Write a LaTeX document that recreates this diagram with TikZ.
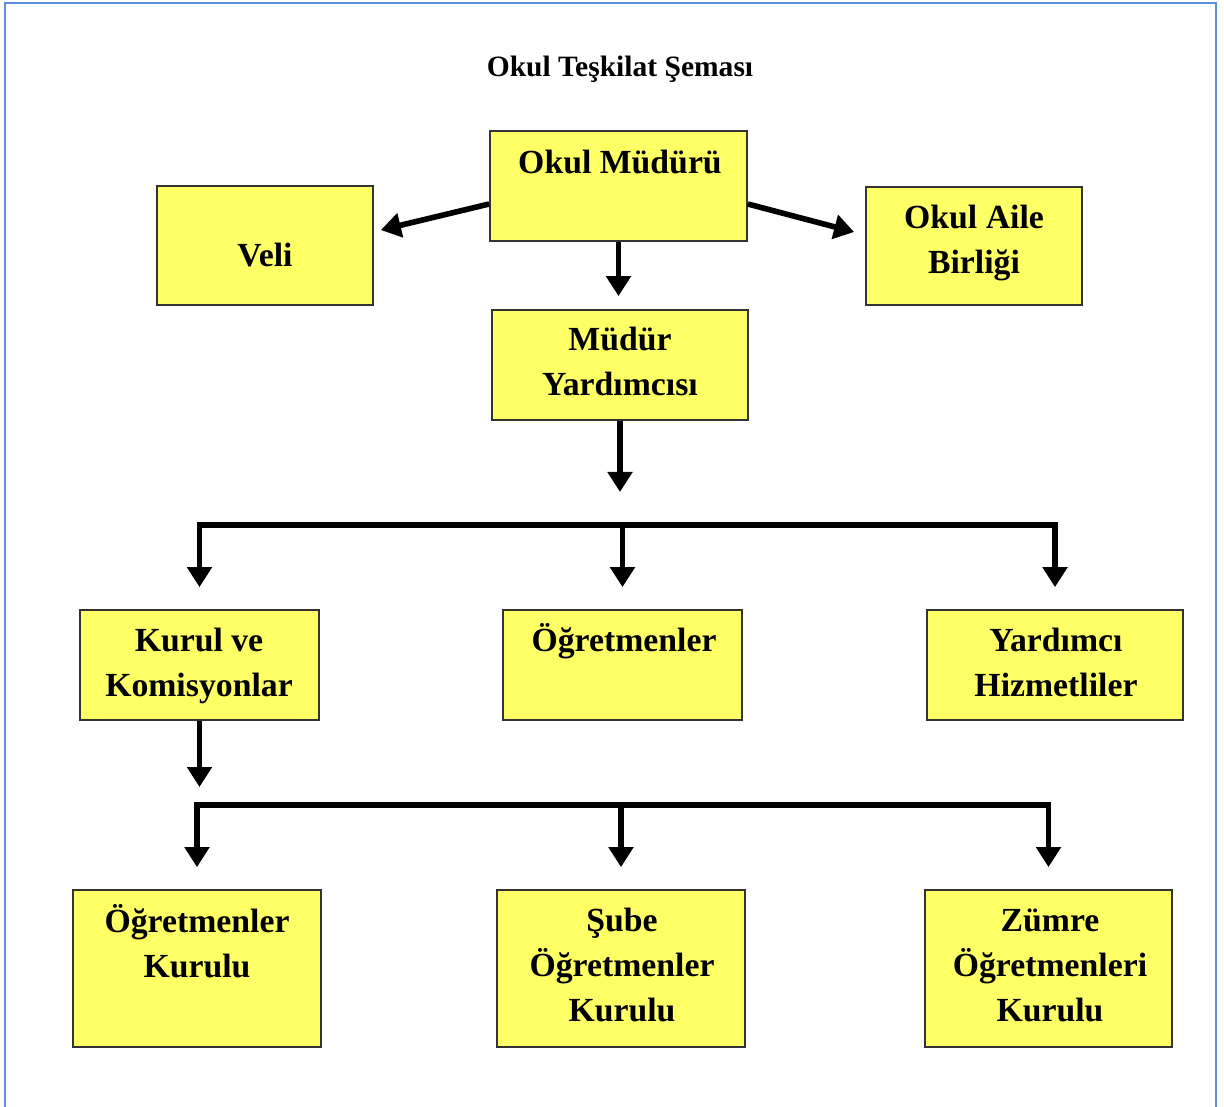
\documentclass[tikz,border=0pt]{standalone}
\usepackage{fontspec}
\setmainfont{Liberation Serif}
\usetikzlibrary{arrows.meta, calc}

\definecolor{boxyellow}{HTML}{FFFF66}
\definecolor{frameblue}{HTML}{5B8EDB}

\begin{document}
\begin{tikzpicture}[x=0.025cm, y=-0.025cm,
  box/.style={draw=black!80, line width=1.2pt, fill=boxyellow, inner sep=0pt},
  lbl/.style={font=\bfseries\fontsize{24}{32}\selectfont, align=center, anchor=base, inner sep=0pt},
  link/.style={line width=4pt},
  arr/.style={line width=4pt, -{Triangle[width=0.6cm, length=0.5cm]}}]

% Page
\useasboundingbox (0,0) rectangle (1224,1106);
\draw[frameblue, line width=1.5pt] (5,1120) -- (5,3) -- (1216,3) -- (1216,1120);

% Title
\node[lbl, font=\bfseries\fontsize{21}{24}\selectfont] (title) at (620,76) {Okul Teşkilat Şeması};

% Boxes
\node[box, minimum width=6.425cm, minimum height=2.75cm] (mudur) at (618.5,186) {};
\node[box, minimum width=5.4cm, minimum height=2.975cm] (veli) at (265,245.5) {};
\node[box, minimum width=5.4cm, minimum height=2.95cm] (aile) at (974,246) {};
\node[box, minimum width=6.4cm, minimum height=2.75cm] (yard) at (620,365) {};
\node[box, minimum width=5.975cm, minimum height=2.75cm] (kurul) at (199.5,665) {};
\node[box, minimum width=5.975cm, minimum height=2.75cm] (ogrt) at (622.5,665) {};
\node[box, minimum width=6.4cm, minimum height=2.75cm] (hizmet) at (1055,665) {};
\node[box, minimum width=6.2cm, minimum height=3.925cm] (okurul) at (197,968.5) {};
\node[box, minimum width=6.2cm, minimum height=3.925cm] (sube) at (621,968.5) {};
\node[box, minimum width=6.175cm, minimum height=3.925cm] (zumre) at (1048.5,968.5) {};

% Texts (anchored at the baseline of the last line)
\node[lbl] (tMudur) at (620,173) {Okul Müdürü};
\node[lbl] (tVeli) at (265,266) {Veli};
\node[lbl] (tAile) at (974,273) {Okul Aile\\Birliği};
\node[lbl] (tYard) at (620,395) {Müdür\\Yardımcısı};
\node[lbl] (tKurul) at (199,696) {Kurul ve\\Komisyonlar};
\node[lbl] (tOgrt) at (624,651) {Öğretmenler};
\node[lbl] (tHizmet) at (1056,696) {Yardımcı\\Hizmetliler};
\node[lbl] (tOkurul) at (197,977) {Öğretmenler\\Kurulu};
\node[lbl] (tSube) at (622,1021) {Şube\\Öğretmenler\\Kurulu};
\node[lbl] (tZumre) at (1050,1021) {Zümre\\Öğretmenleri\\Kurulu};

% Bus points
\coordinate (busA) at (621,525);
\coordinate (busB) at (621,805);

% Arrows
\draw[arr] ($(mudur.west)+(0,18)$) -- ($(veli.east)+(7,-15.5)$);
\draw[arr] ($(mudur.east)+(0,18)$) -- ($(aile.west)+(-11,-14)$);
\draw[arr, shorten >=0.325cm] (mudur.south) -- (mudur.south |- yard.north);
\draw[arr, shorten >=0.825cm] (yard.south) -- (yard.south |- busA);

\draw[arr, shorten >=0.55cm] (busA) -| (kurul.north);
\draw[arr, shorten >=0.55cm] (busA) -| (hizmet.north);
\draw[arr, shorten >=0.55cm] (ogrt.north |- busA) -- (ogrt.north);

\draw[arr, shorten >=0.45cm] (kurul.south) -- (kurul.south |- busB);

\draw[arr, shorten >=0.55cm] (busB) -| (okurul.north);
\draw[arr, shorten >=0.55cm] (busB) -| (zumre.north);
\draw[arr, shorten >=0.55cm] (busB) -- (sube.north);

\end{tikzpicture}
\end{document}
